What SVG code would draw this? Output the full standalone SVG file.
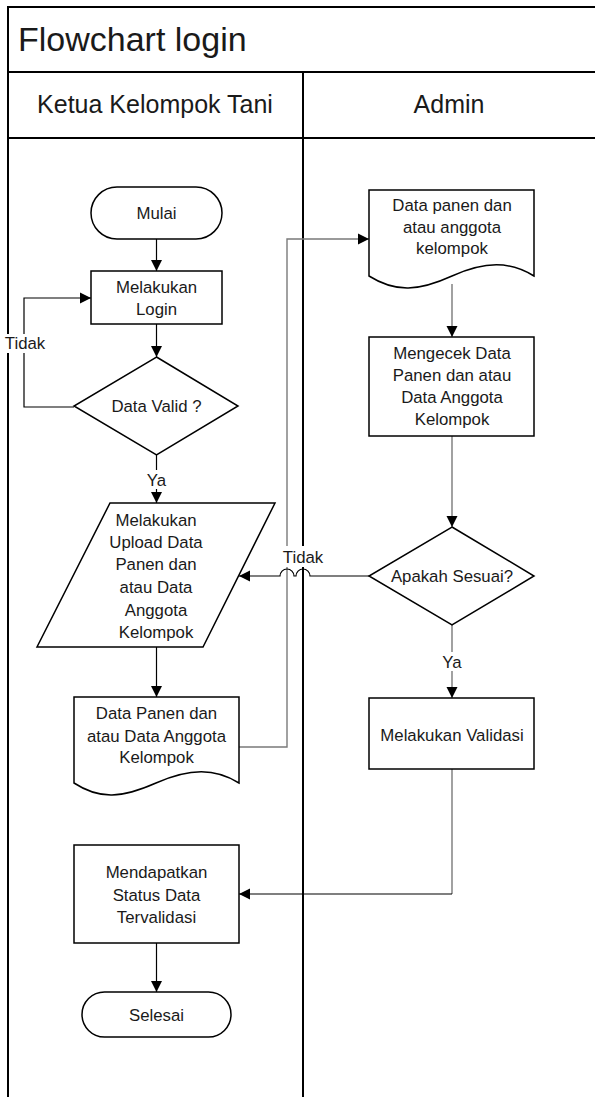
<svg xmlns="http://www.w3.org/2000/svg" width="595" height="1097" viewBox="0 0 595 1097">
<style>
.frame{stroke:#000;stroke-width:2;fill:none}
.shape{fill:#fff;stroke:#000;stroke-width:1.5}
.t{font-family:"Liberation Sans",Arial,sans-serif;font-size:16.8px;fill:#1a1a1a;text-anchor:middle}
.c{fill:none;stroke:#000;stroke-width:1.2}
.g{fill:none;stroke:#7a7a7a;stroke-width:1.4}
.lbg{fill:#fff;stroke:none}
</style>
<defs>
<marker id="ah" viewBox="0 0 10 10" refX="10" refY="5" markerWidth="11" markerHeight="12" markerUnits="userSpaceOnUse" orient="auto"><path d="M0,0 L10,5 L0,10 z" fill="#000"/></marker>
</defs>
<rect x="0" y="0" width="595" height="1097" fill="#fff"/>
<g id="pool">
<path class="frame" d="M8,7 H595 M8,6 V1097 M8,72 H595 M8,138 H595 M303,72 V1097"/>
<text x="18" y="51" style="font-family:'Liberation Sans',Arial,sans-serif;font-size:34px;fill:#1a1a1a">Flowchart login</text>
<text x="155" y="113" style="font-family:'Liberation Sans',Arial,sans-serif;font-size:25px;fill:#1a1a1a;text-anchor:middle">Ketua Kelompok Tani</text>
<text x="449" y="113" style="font-family:'Liberation Sans',Arial,sans-serif;font-size:25px;fill:#1a1a1a;text-anchor:middle">Admin</text>
</g>
<g id="connectors">
<path class="c" d="M156.5,239 V271" marker-end="url(#ah)"/>
<path class="c" d="M156.5,324 V357" marker-end="url(#ah)"/>
<path class="c" d="M74,407 H24 V298 H91" marker-end="url(#ah)"/>
<path class="c" d="M156.5,455 V503" marker-end="url(#ah)"/>
<path class="c" d="M156.5,647 V697" marker-end="url(#ah)"/>
<path class="g" d="M239,747 H287 V239 H369" marker-end="url(#ah)"/>
<path class="g" d="M452,284 V337" marker-end="url(#ah)"/>
<path class="g" d="M452,436 V527" marker-end="url(#ah)"/>
<path class="c" d="M369,576 H310 A7,7 0 0 0 296,576 H294 A7,7 0 0 0 280,576 H239" marker-end="url(#ah)"/>
<path class="g" d="M452,625 V698" marker-end="url(#ah)"/>
<path class="g" d="M452,769 V894"/>
<path class="c" d="M452,894 H239" marker-end="url(#ah)"/>
<path class="c" d="M156.5,943 V992" marker-end="url(#ah)"/>
<rect class="lbg" x="5" y="334" width="40" height="19"/>
<text class="t" x="25" y="349">Tidak</text>
<rect class="lbg" x="146" y="470" width="21" height="19"/>
<text class="t" x="156.5" y="486">Ya</text>
<rect class="lbg" x="283" y="546" width="41" height="21"/>
<text class="t" x="303" y="563">Tidak</text>
<rect class="lbg" x="442" y="652" width="21" height="19"/>
<text class="t" x="452" y="668">Ya</text>
</g>
<g id="mulai">
<rect class="shape" x="91" y="187" width="131" height="52" rx="26" ry="26"/>
<text class="t" x="156.5" y="219">Mulai</text>
</g>
<g id="login">
<rect class="shape" x="91" y="271" width="131" height="53"/>
<text class="t" x="156.5" y="293">Melakukan</text>
<text class="t" x="156.5" y="315">Login</text>
</g>
<g id="valid">
<path class="shape" d="M156.5,357 L238,406 L156.5,455 L74,406 Z"/>
<text class="t" x="156.5" y="412">Data Valid ?</text>
</g>
<g id="upload">
<path class="shape" d="M110,503 H275 L203,647 H37 Z"/>
<text class="t" x="156" y="526">Melakukan</text>
<text class="t" x="156" y="548">Upload Data</text>
<text class="t" x="156" y="570">Panen dan</text>
<text class="t" x="156" y="593">atau Data</text>
<text class="t" x="156" y="616">Anggota</text>
<text class="t" x="156" y="638">Kelompok</text>
</g>
<g id="doc-left">
<path class="shape" d="M74,697 H239 V783 C215,768 190,768 156,783 S100,800 74,783 Z"/>
<text class="t" x="156.5" y="719">Data Panen dan</text>
<text class="t" x="156.5" y="742">atau Data Anggota</text>
<text class="t" x="156.5" y="763">Kelompok</text>
</g>
<g id="status">
<rect class="shape" x="74" y="845" width="165" height="98"/>
<text class="t" x="156.5" y="878">Mendapatkan</text>
<text class="t" x="156.5" y="901">Status  Data</text>
<text class="t" x="156.5" y="923">Tervalidasi</text>
</g>
<g id="selesai">
<rect class="shape" x="82" y="992" width="149" height="45" rx="22.5" ry="22.5"/>
<text class="t" x="156.5" y="1021">Selesai</text>
</g>
<g id="doc-right">
<path class="shape" d="M369,190 H534 V276 C510,261 485,261 452,276 S396,293 369,276 Z"/>
<text class="t" x="452" y="211">Data panen dan</text>
<text class="t" x="452" y="233">atau anggota</text>
<text class="t" x="452" y="254">kelompok</text>
</g>
<g id="cek">
<rect class="shape" x="369" y="337" width="165" height="99"/>
<text class="t" x="452" y="359">Mengecek Data</text>
<text class="t" x="452" y="381">Panen dan atau</text>
<text class="t" x="452" y="403">Data Anggota</text>
<text class="t" x="452" y="425">Kelompok</text>
</g>
<g id="sesuai">
<path class="shape" d="M452,527 L534,576 L452,625 L369,576 Z"/>
<text class="t" x="452" y="582">Apakah Sesuai?</text>
</g>
<g id="validasi">
<rect class="shape" x="369" y="698" width="165" height="71"/>
<text class="t" x="452" y="741">Melakukan Validasi</text>
</g>
</svg>
